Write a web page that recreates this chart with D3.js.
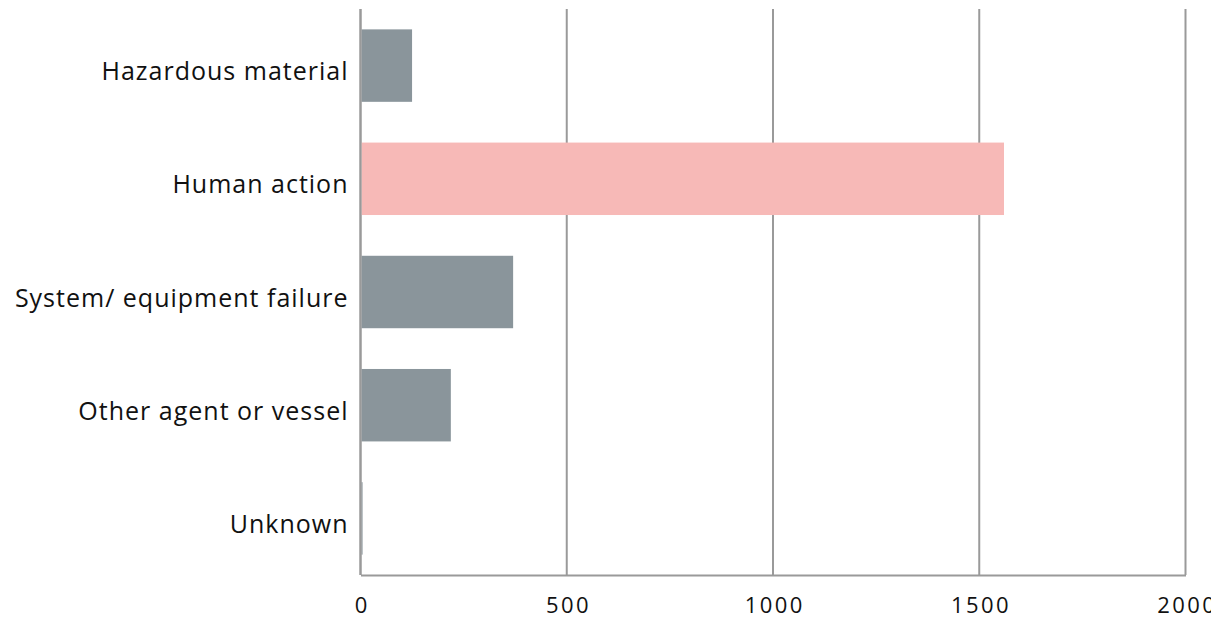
<!DOCTYPE html>
<html>
<head>
<meta charset="utf-8">
<script src="https://cdn.jsdelivr.net/npm/d3@7"></script>
<style>
  html, body { margin: 0; padding: 0; background: #fff; }
  svg { display: block; font-family: "Open Sans", sans-serif; }
</style>
</head>
<body>
<svg id="chart" width="1211" height="621"></svg>
<script>
const categories = ["Hazardous material", "Human action", "System/ equipment failure", "Other agent or vessel", "Unknown"];
const values = [125, 1560, 370, 219, 5];
const highlight = ["Human action"];
const tickValues = [0, 500, 1000, 1500, 2000];

const svg = d3.select("#chart");
const margin = { left: 360.5, right: 25.5, top: 9, bottom: 46 };
const W = 1211, H = 621;

const x = d3.scaleLinear().domain([0, 2000]).range([margin.left, W - margin.right]);
const y = d3.scaleBand().domain(categories).range([margin.top, H - margin.bottom])
  .paddingInner(0.36).paddingOuter(0.18);

// gridlines
svg.append("g").selectAll("line").data(tickValues).join("line")
  .attr("x1", d => x(d)).attr("x2", d => x(d))
  .attr("y1", margin.top).attr("y2", H - margin.bottom)
  .attr("stroke", "#9a9a9a").attr("stroke-width", 2);

// bars
svg.append("g").selectAll("rect").data(categories).join("rect")
  .attr("x", x(0) + 1)
  .attr("y", d => y(d))
  .attr("width", (d, i) => Math.max(0, x(values[i]) - x(0) - 1))
  .attr("height", y.bandwidth())
  .attr("fill", d => highlight.includes(d) ? "#f7b9b7" : "#8a959b");

// left axis line redraw on top
svg.append("line")
  .attr("x1", x(0)).attr("x2", x(0))
  .attr("y1", margin.top).attr("y2", H - margin.bottom)
  .attr("stroke", "#9a9a9a").attr("stroke-width", 2);

// bottom axis
const xAxis = d3.axisBottom(x).tickValues(tickValues).tickSize(0).tickPadding(0).tickFormat(d3.format("d"));
const gx = svg.append("g").attr("transform", `translate(0,${H - margin.bottom})`).call(xAxis);
gx.select(".domain").attr("stroke", "#9a9a9a").attr("stroke-width", 2);
gx.selectAll("text")
  .attr("y", 38).attr("dy", null).attr("dx", 1.2)
  .attr("font-size", 22).attr("letter-spacing", "2.4px")
  .attr("font-family", "Open Sans, sans-serif").attr("fill", "#111");

// category labels
const yAxis = d3.axisLeft(y).tickSize(0).tickPadding(12);
const gy = svg.append("g").attr("transform", `translate(${x(0)},0)`).call(yAxis);
gy.select(".domain").remove();
gy.selectAll("text")
  .attr("font-size", 25).attr("letter-spacing", "1px")
  .attr("font-family", "Open Sans, sans-serif").attr("fill", "#111")
  .attr("dy", null).attr("y", 14.5);
</script>
</body>
</html>
